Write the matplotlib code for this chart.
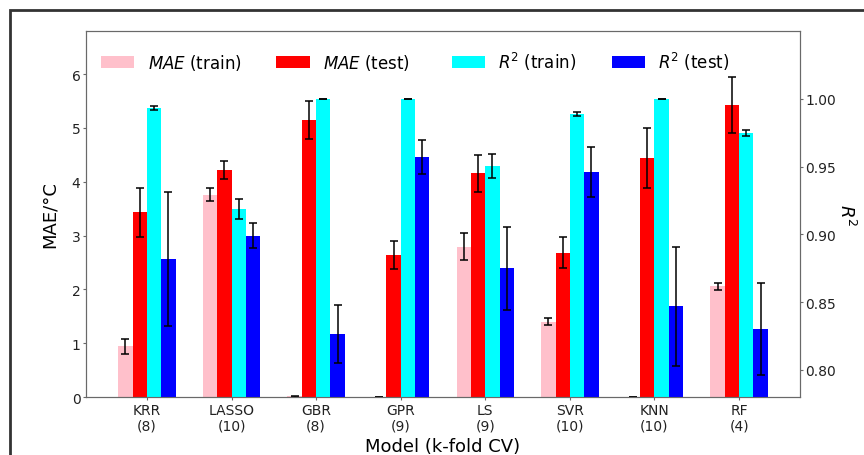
import numpy as np
import matplotlib.pyplot as plt
from matplotlib.patches import Rectangle

# Models and number of folds
models = ['KRR', 'LASSO', 'GBR', 'GPR', 'LS', 'SVR', 'KNN', 'RF']
folds = [8, 10, 8, 9, 9, 10, 10, 4]

# MAE (deg C), left axis
mae_train = [0.94, 3.76, 0.01, 0.002, 2.79, 1.40, 0.002, 2.06]
mae_train_err = [0.135, 0.125, 0.005, 0.001, 0.25, 0.06, 0.001, 0.065]
mae_test = [3.43, 4.22, 5.15, 2.63, 4.16, 2.68, 4.44, 5.43]
mae_test_err = [0.45, 0.17, 0.355, 0.26, 0.345, 0.29, 0.56, 0.52]

# R^2, right axis
r2_train = [0.9933, 0.919, 1.0, 1.0, 0.9504, 0.9889, 1.0, 0.9746]
r2_train_err = [0.0017, 0.0074, 0.0001, 0.0001, 0.0089, 0.0015, 0.0001, 0.0024]
r2_test = [0.8817, 0.899, 0.8267, 0.957, 0.8748, 0.9462, 0.8469, 0.830]
r2_test_err = [0.0495, 0.009, 0.0215, 0.0124, 0.0304, 0.0184, 0.044, 0.034]

x = np.arange(len(models))
w = 0.17
err_kw = dict(capsize=3, ecolor='black', error_kw=dict(elinewidth=1.1, capthick=1.1))

fig = plt.figure(figsize=(8.64, 4.56), dpi=100)
ax1 = fig.add_axes([86/864, 1 - 398/456, (800 - 86)/864, (398 - 32)/456])
ax2 = ax1.twinx()

b1 = ax1.bar(x - 1.5*w, mae_train, w, yerr=mae_train_err, color='pink', label='$MAE$ (train)', **err_kw)
b2 = ax1.bar(x - 0.5*w, mae_test, w, yerr=mae_test_err, color='red', label='$MAE$ (test)  ', **err_kw)
b3 = ax2.bar(x + 0.5*w, r2_train, w, yerr=r2_train_err, color='cyan', label='$R^2$ (train)', **err_kw)
b4 = ax2.bar(x + 1.5*w, r2_test, w, yerr=r2_test_err, color='blue', label='$R^2$ (test)', **err_kw)

ax1.set_xlim(-0.72, 7.72)
ax1.set_ylim(0, 6.8)
ax2.set_ylim(0.78, 1.05)
ax1.set_yticks([0, 1, 2, 3, 4, 5, 6])
ax2.set_yticks([0.80, 0.85, 0.90, 0.95, 1.00])
ax2.set_yticklabels(['0.80', '0.85', '0.90', '0.95', '1.00'])

ax1.set_xticks(x)
ax1.set_xticklabels([f'{m}\n({k})' for m, k in zip(models, folds)])

for ax in (ax1, ax2):
    for s in ax.spines.values():
        s.set_color('dimgray')
    ax.tick_params(colors='dimgray', labelcolor='#222222', length=2, pad=2, labelsize=10)

ax1.set_xlabel('Model (k-fold CV)', fontsize=13, labelpad=3)
ax1.set_ylabel('MAE/°C', fontsize=13, labelpad=9)
ax2.set_ylabel('$R^2$', fontsize=13, rotation=270, labelpad=14)

ax2.legend(handles=[b1, b2, b3, b4], loc='upper left', bbox_to_anchor=(0, 0.99), ncol=4,
           frameon=False, fontsize=12, columnspacing=2.1)

# frame around the (cropped) figure
fig.patches.append(Rectangle((10/864, -0.1), 1.2, 1.1 - 11/456, transform=fig.transFigure,
                             fill=False, edgecolor='#333333', linewidth=2, clip_on=False))

fig.savefig('out.png', dpi=100)
